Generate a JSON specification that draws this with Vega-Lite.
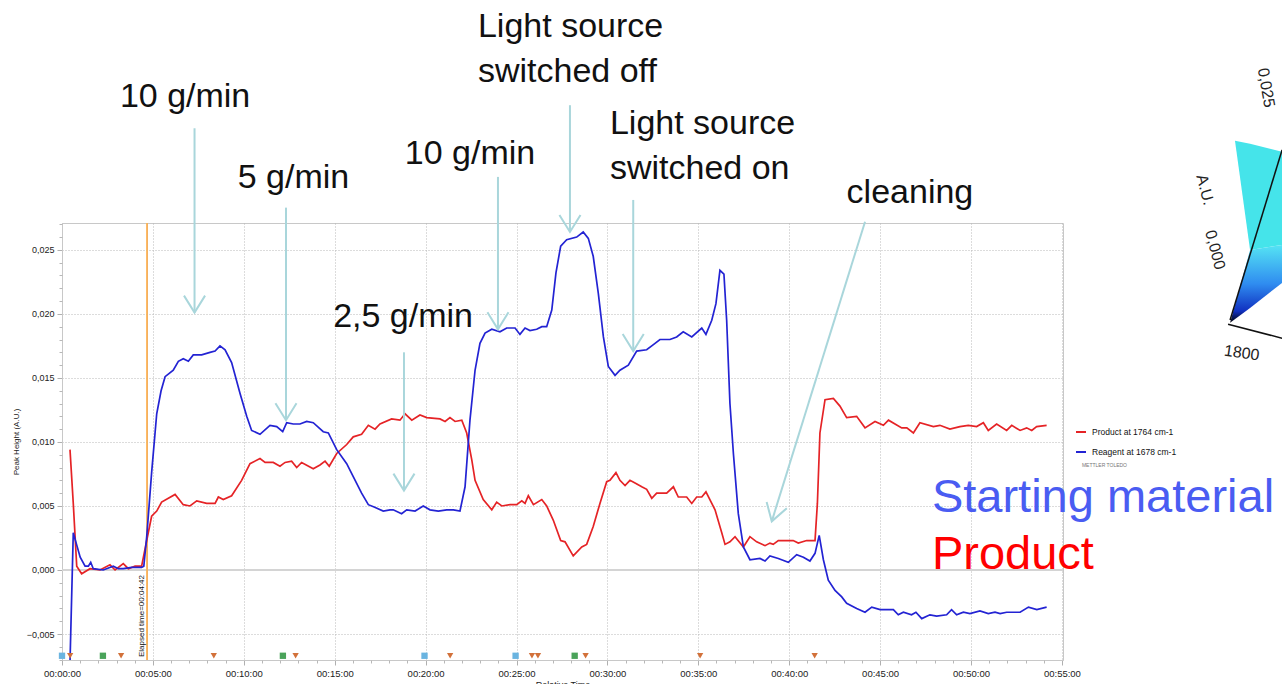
{
  "$schema": "https://vega.github.io/schema/vega-lite/v6.json",
  "autosize": {"type": "none"},
  "width": 1001,
  "height": 437,
  "padding": {"left": 62, "top": 223, "right": 219, "bottom": 24},
  "background": "white",
  "config": {"view": {"stroke": "#c8c8c8"}, "font": "Liberation Sans"},
  "datasets": {
    "product": [
      {"t":0.44,"v":0.0094},{"t":0.62,"v":0.0052},{"t":0.81,"v":0.0003},{"t":1.08,"v":-0.0003},{"t":1.54,"v":0.0001},{"t":2.09,"v":0.0000},{"t":2.64,"v":0.0004},{"t":2.92,"v":0.0000},{"t":3.37,"v":0.0005},{"t":3.65,"v":0.0001},{"t":4.02,"v":0.0003},{"t":4.38,"v":0.0003},{"t":4.66,"v":0.0023},{"t":4.93,"v":0.0042},{"t":5.21,"v":0.0046},{"t":5.48,"v":0.0053},{"t":5.85,"v":0.0056},{"t":6.22,"v":0.0059},{"t":6.67,"v":0.0051},{"t":7.04,"v":0.0050},{"t":7.41,"v":0.0054},{"t":7.96,"v":0.0052},{"t":8.42,"v":0.0052},{"t":8.6,"v":0.0057},{"t":8.87,"v":0.0055},{"t":9.33,"v":0.0058},{"t":9.88,"v":0.0070},{"t":10.34,"v":0.0083},{"t":10.89,"v":0.0087},{"t":11.17,"v":0.0084},{"t":11.62,"v":0.0084},{"t":11.99,"v":0.0081},{"t":12.27,"v":0.0084},{"t":12.63,"v":0.0085},{"t":12.91,"v":0.0080},{"t":13.18,"v":0.0084},{"t":13.82,"v":0.0079},{"t":14.19,"v":0.0082},{"t":14.47,"v":0.0085},{"t":14.7,"v":0.0081},{"t":15.11,"v":0.0091},{"t":15.66,"v":0.0098},{"t":16.02,"v":0.0104},{"t":16.48,"v":0.0106},{"t":16.85,"v":0.0113},{"t":17.22,"v":0.0110},{"t":17.49,"v":0.0114},{"t":18.13,"v":0.0118},{"t":18.59,"v":0.0117},{"t":18.87,"v":0.0122},{"t":19.24,"v":0.0117},{"t":19.69,"v":0.0121},{"t":20.06,"v":0.0119},{"t":20.79,"v":0.0118},{"t":21.07,"v":0.0116},{"t":21.34,"v":0.0119},{"t":21.62,"v":0.0116},{"t":21.99,"v":0.0117},{"t":22.26,"v":0.0107},{"t":22.54,"v":0.0086},{"t":22.72,"v":0.0070},{"t":23.17,"v":0.0055},{"t":23.64,"v":0.0047},{"t":23.91,"v":0.0053},{"t":24.19,"v":0.0050},{"t":24.64,"v":0.0051},{"t":25.01,"v":0.0051},{"t":25.29,"v":0.0054},{"t":25.47,"v":0.0052},{"t":25.65,"v":0.0058},{"t":25.93,"v":0.0051},{"t":26.39,"v":0.0055},{"t":26.66,"v":0.0050},{"t":27.02,"v":0.0039},{"t":27.43,"v":0.0023},{"t":27.67,"v":0.0022},{"t":28.12,"v":0.0011},{"t":28.59,"v":0.0018},{"t":28.86,"v":0.0020},{"t":29.22,"v":0.0034},{"t":29.59,"v":0.0052},{"t":29.96,"v":0.0069},{"t":30.14,"v":0.0070},{"t":30.47,"v":0.0076},{"t":30.69,"v":0.0070},{"t":30.97,"v":0.0066},{"t":31.24,"v":0.0070},{"t":31.52,"v":0.0068},{"t":31.89,"v":0.0065},{"t":32.16,"v":0.0063},{"t":32.44,"v":0.0056},{"t":32.71,"v":0.0060},{"t":33.26,"v":0.0060},{"t":33.63,"v":0.0065},{"t":33.9,"v":0.0057},{"t":34.36,"v":0.0057},{"t":34.64,"v":0.0052},{"t":34.91,"v":0.0057},{"t":35.19,"v":0.0057},{"t":35.42,"v":0.0061},{"t":35.92,"v":0.0047},{"t":36.29,"v":0.0029},{"t":36.47,"v":0.0020},{"t":36.74,"v":0.0022},{"t":37.02,"v":0.0026},{"t":37.48,"v":0.0018},{"t":37.84,"v":0.0026},{"t":38.21,"v":0.0022},{"t":38.67,"v":0.0019},{"t":38.94,"v":0.0021},{"t":39.12,"v":0.0020},{"t":39.4,"v":0.0023},{"t":40.22,"v":0.0023},{"t":40.5,"v":0.0021},{"t":40.96,"v":0.0023},{"t":41.42,"v":0.0023},{"t":41.55,"v":0.0052},{"t":41.69,"v":0.0107},{"t":41.97,"v":0.0133},{"t":42.43,"v":0.0134},{"t":42.79,"v":0.0128},{"t":43.16,"v":0.0119},{"t":43.71,"v":0.0120},{"t":44.17,"v":0.0111},{"t":44.72,"v":0.0116},{"t":45.18,"v":0.0113},{"t":45.46,"v":0.0117},{"t":46.19,"v":0.0111},{"t":46.47,"v":0.0111},{"t":46.83,"v":0.0107},{"t":47.19,"v":0.0115},{"t":47.93,"v":0.0112},{"t":48.29,"v":0.0113},{"t":48.84,"v":0.0110},{"t":49.39,"v":0.0112},{"t":49.85,"v":0.0113},{"t":50.31,"v":0.0112},{"t":50.68,"v":0.0115},{"t":50.95,"v":0.0109},{"t":51.41,"v":0.0114},{"t":51.96,"v":0.0109},{"t":52.24,"v":0.0113},{"t":52.7,"v":0.0109},{"t":53.06,"v":0.0111},{"t":53.34,"v":0.0109},{"t":53.61,"v":0.0112},{"t":54.16,"v":0.0113}
    ],
    "reagent": [
      {"t":0.44,"v":-0.0072},{"t":0.62,"v":0.0029},{"t":0.8,"v":0.0020},{"t":1.0,"v":0.0010},{"t":1.27,"v":0.0003},{"t":1.45,"v":0.0003},{"t":1.58,"v":0.0006},{"t":1.72,"v":0.0001},{"t":2.27,"v":0.0000},{"t":2.82,"v":0.0003},{"t":3.1,"v":0.0001},{"t":3.37,"v":0.0001},{"t":3.83,"v":0.0002},{"t":4.38,"v":0.0002},{"t":4.5,"v":0.0003},{"t":4.66,"v":0.0026},{"t":4.93,"v":0.0076},{"t":5.21,"v":0.0122},{"t":5.45,"v":0.0140},{"t":5.67,"v":0.0151},{"t":6.12,"v":0.0156},{"t":6.4,"v":0.0163},{"t":6.67,"v":0.0165},{"t":6.95,"v":0.0163},{"t":7.22,"v":0.0168},{"t":7.68,"v":0.0168},{"t":8.14,"v":0.0170},{"t":8.42,"v":0.0171},{"t":8.69,"v":0.0175},{"t":8.97,"v":0.0172},{"t":9.33,"v":0.0162},{"t":9.79,"v":0.0138},{"t":10.16,"v":0.0120},{"t":10.43,"v":0.0109},{"t":10.89,"v":0.0106},{"t":11.44,"v":0.0113},{"t":11.81,"v":0.0112},{"t":12.14,"v":0.0108},{"t":12.36,"v":0.0115},{"t":12.72,"v":0.0114},{"t":13.09,"v":0.0114},{"t":13.46,"v":0.0116},{"t":13.82,"v":0.0115},{"t":14.37,"v":0.0108},{"t":14.65,"v":0.0107},{"t":15.11,"v":0.0094},{"t":15.66,"v":0.0083},{"t":16.02,"v":0.0073},{"t":16.48,"v":0.0060},{"t":16.85,"v":0.0051},{"t":17.2,"v":0.0049},{"t":17.67,"v":0.0046},{"t":18.04,"v":0.0047},{"t":18.22,"v":0.0047},{"t":18.68,"v":0.0044},{"t":18.96,"v":0.0047},{"t":19.42,"v":0.0046},{"t":19.87,"v":0.0050},{"t":20.24,"v":0.0047},{"t":20.7,"v":0.0046},{"t":21.16,"v":0.0047},{"t":21.53,"v":0.0047},{"t":21.89,"v":0.0046},{"t":22.17,"v":0.0065},{"t":22.44,"v":0.0117},{"t":22.72,"v":0.0156},{"t":22.99,"v":0.0177},{"t":23.27,"v":0.0185},{"t":23.64,"v":0.0188},{"t":24.09,"v":0.0186},{"t":24.46,"v":0.0189},{"t":24.92,"v":0.0189},{"t":25.19,"v":0.0184},{"t":25.47,"v":0.0189},{"t":25.74,"v":0.0187},{"t":26.11,"v":0.0188},{"t":26.39,"v":0.0190},{"t":26.66,"v":0.0190},{"t":26.94,"v":0.0203},{"t":27.17,"v":0.0232},{"t":27.43,"v":0.0253},{"t":27.76,"v":0.0258},{"t":28.31,"v":0.0260},{"t":28.67,"v":0.0264},{"t":28.95,"v":0.0259},{"t":29.22,"v":0.0245},{"t":29.5,"v":0.0216},{"t":29.78,"v":0.0182},{"t":30.05,"v":0.0159},{"t":30.42,"v":0.0152},{"t":30.69,"v":0.0156},{"t":31.15,"v":0.0160},{"t":31.61,"v":0.0171},{"t":32.16,"v":0.0172},{"t":32.53,"v":0.0176},{"t":32.89,"v":0.0180},{"t":33.44,"v":0.0180},{"t":33.81,"v":0.0182},{"t":34.17,"v":0.0186},{"t":34.64,"v":0.0182},{"t":35.19,"v":0.0189},{"t":35.42,"v":0.0184},{"t":35.74,"v":0.0195},{"t":35.97,"v":0.0208},{"t":36.19,"v":0.0234},{"t":36.41,"v":0.0231},{"t":36.56,"v":0.0195},{"t":36.74,"v":0.0130},{"t":36.93,"v":0.0091},{"t":37.2,"v":0.0044},{"t":37.48,"v":0.0018},{"t":37.84,"v":0.0008},{"t":38.39,"v":0.0009},{"t":38.67,"v":0.0007},{"t":38.94,"v":0.0011},{"t":39.4,"v":0.0009},{"t":39.95,"v":0.0006},{"t":40.41,"v":0.0012},{"t":40.78,"v":0.0010},{"t":41.14,"v":0.0007},{"t":41.42,"v":0.0013},{"t":41.65,"v":0.0027},{"t":41.88,"v":0.0008},{"t":42.15,"v":-0.0008},{"t":42.52,"v":-0.0016},{"t":42.89,"v":-0.0021},{"t":43.16,"v":-0.0026},{"t":43.71,"v":-0.0030},{"t":44.17,"v":-0.0033},{"t":44.54,"v":-0.0029},{"t":45.0,"v":-0.0031},{"t":45.73,"v":-0.0031},{"t":46.0,"v":-0.0035},{"t":46.28,"v":-0.0033},{"t":46.73,"v":-0.0035},{"t":46.97,"v":-0.0033},{"t":47.29,"v":-0.0038},{"t":47.74,"v":-0.0035},{"t":48.11,"v":-0.0036},{"t":48.66,"v":-0.0035},{"t":48.93,"v":-0.0031},{"t":49.21,"v":-0.0035},{"t":49.58,"v":-0.0033},{"t":49.94,"v":-0.0034},{"t":50.49,"v":-0.0032},{"t":50.95,"v":-0.0034},{"t":51.32,"v":-0.0033},{"t":51.6,"v":-0.0034},{"t":51.96,"v":-0.0033},{"t":52.7,"v":-0.0033},{"t":53.16,"v":-0.0029},{"t":53.62,"v":-0.0031},{"t":54.16,"v":-0.0029}
    ],
    "markers": [
      {"t":0,"k":"b"},{"t":0.45,"k":"o"},{"t":2.25,"k":"g"},{"t":3.25,"k":"o"},{"t":8.35,"k":"o"},{"t":12.15,"k":"g"},{"t":12.85,"k":"o"},{"t":19.94,"k":"b"},{"t":21.35,"k":"o"},{"t":24.95,"k":"b"},{"t":25.85,"k":"o"},{"t":26.18,"k":"o"},{"t":28.2,"k":"g"},{"t":28.8,"k":"o"},{"t":35.1,"k":"o"},{"t":41.4,"k":"o"}
    ],
    "arrows": [
      {"t":7.29,"v":0.0345,"t2":7.29,"v2":0.0201,"a":0},
      {"t":12.32,"v":0.0283,"t2":12.32,"v2":0.0117,"a":0},
      {"t":18.81,"v":0.0170,"t2":18.81,"v2":0.0062,"a":0},
      {"t":23.98,"v":0.0307,"t2":23.98,"v2":0.0188,"a":0},
      {"t":27.94,"v":0.0363,"t2":27.94,"v2":0.0264,"a":0},
      {"t":31.42,"v":0.0289,"t2":31.42,"v2":0.0171,"a":0},
      {"t":44.17,"v":0.0272,"t2":39.04,"v2":0.0038,"a":17}
    ],
    "notesCenter": [
      {"t":6.77,"v":0.03615,"label":"10 g/min"},
      {"t":12.73,"v":0.02984,"label":"5 g/min"},
      {"t":18.76,"v":0.01898,"label":"2,5 g/min"},
      {"t":22.44,"v":0.03172,"label":"10 g/min"},
      {"t":46.64,"v":0.02867,"label":"cleaning"}
    ],
    "notesLeft": [
      {"t":22.88,"v":0.04162,"label":"Light source\nswitched off"},
      {"t":30.14,"v":0.03406,"label":"Light source\nswitched on"}
    ],
    "big": [
      {"t":47.85,"v":0.00453,"label":"Starting material","k":"s"},
      {"t":47.85,"v":0.00008,"label":"Product","k":"p"}
    ],
    "cyanTop": [
      {"t":64.52,"v":0.03352,"v2":0.03352},
      {"t":65.35,"v":0.03328,"v2":0.025},
      {"t":67.11,"v":0.03266,"v2":0.02539}
    ],
    "cyanLow": [
      {"t":64.25,"v":0.0193,"v2":0.0193},
      {"t":65.35,"v":0.025,"v2":0.02047},
      {"t":67.11,"v":0.02539,"v2":0.02242}
    ],
    "axis3d": [
      {"t":64.25,"v":0.01953,"t2":67.11,"v2":0.03281},
      {"t":64.14,"v":0.0192,"t2":67.11,"v2":0.0181}
    ],
    "labels3d": [
      {"t":66.23,"v":0.03766,"label":"0,025","a":80},
      {"t":62.87,"v":0.02969,"label":"A.U.","a":75},
      {"t":63.42,"v":0.025,"label":"0,000","a":75},
      {"t":64.89,"v":0.01695,"label":"1800","a":8}
    ],
    "brand": [
      {"t":56.1,"v":0.0082,"label":"METTLER TOLEDO"}
    ],
    "elapsed": [
      {"t":4.6,"v":-0.0068,"label":"Elapsed time=00:04:42"}
    ]
  },
  "resolve": {"axis": {"x": "independent", "y": "independent"}},
  "layer": [
    {
      "layer": [
        {
          "data": {"name": "product"},
          "mark": {"type": "rule", "color": "#d4d4d4", "strokeWidth": 2},
          "encoding": {
            "y": {"datum": 0, "type": "quantitative"}
          }
        },
        {
          "data": {"name": "product"},
          "mark": {"type": "rule", "color": "#f3b060", "strokeWidth": 1},
          "encoding": {
            "x": {"datum": 4.7, "type": "quantitative"}
          }
        },
        {
          "data": {"name": "product"},
          "mark": {"type": "line", "strokeWidth": 1.7, "clip": true},
          "encoding": {
            "x": {
              "field": "t", "type": "quantitative",
              "scale": {"domain": [0, 55.06], "nice": false, "zero": false},
              "axis": {
                "orient": "bottom",
                "title": "Relative Time",
                "titleFontSize": 9, "titleFontWeight": "normal", "titlePadding": 3, "titleColor": "#222",
                "values": [0,5,10,15,20,25,30,35,40,45,50,55],
                "labelExpr": "'00:' + (datum.value < 10 ? '0' : '') + datum.value + ':00'",
                "labelOverlap": false, "labelFlush": false,
                "labelFontSize": 9.5, "labelColor": "#222", "labelPadding": 3,
                "tickSize": 5, "tickColor": "#b0b0b0", "domainColor": "#c8c8c8",
                "grid": true, "gridDash": [1, 2], "gridColor": "#b8b8b8"
              }
            },
            "y": {
              "field": "v", "type": "quantitative",
              "scale": {"domain": [-0.00703, 0.0271], "nice": false, "zero": false},
              "axis": {
                "orient": "left",
                "title": "Peak Height (A.U.)",
                "titleFontSize": 8, "titleFontWeight": "normal", "titlePadding": 6, "titleColor": "#222",
                "values": [-0.005, 0, 0.005, 0.01, 0.015, 0.02, 0.025],
                "labelExpr": "replace(format(datum.value, '.3f'), '.', ',')",
                "labelOverlap": false, "labelFontSize": 9, "labelColor": "#222", "labelPadding": 3,
                "tickSize": 5, "tickColor": "#b0b0b0", "domainColor": "#c8c8c8",
                "grid": true, "gridDash": [1, 2], "gridColor": "#b8b8b8"
              }
            },
            "color": {
              "datum": "Product at 1764 cm-1",
              "scale": {"domain": ["Product at 1764 cm-1", "Reagent at 1678 cm-1"], "range": ["#e52326", "#2323d3"]},
              "legend": {
                "orient": "none", "legendX": 1013, "legendY": 203, "title": null,
                "symbolType": "stroke", "symbolStrokeWidth": 2, "symbolSize": 100,
                "labelFontSize": 8.5, "labelColor": "#111", "rowPadding": 9, "labelOffset": 5
              }
            }
          }
        },
        {
          "data": {"name": "reagent"},
          "mark": {"type": "line", "strokeWidth": 1.7, "clip": true},
          "encoding": {
            "x": {"field": "t", "type": "quantitative"},
            "y": {"field": "v", "type": "quantitative"},
            "color": {"datum": "Reagent at 1678 cm-1"}
          }
        },
        {
          "data": {"name": "markers"},
          "mark": {"type": "point", "filled": true, "size": 40, "opacity": 1},
          "encoding": {
            "x": {"field": "t", "type": "quantitative"},
            "y": {"datum": -0.0067, "type": "quantitative"},
            "shape": {"field": "k", "type": "nominal", "scale": {"domain": ["o", "g", "b"], "range": ["triangle-down", "square", "square"]}, "legend": null},
            "fill": {"field": "k", "type": "nominal", "scale": {"domain": ["o", "g", "b"], "range": ["#d2713a", "#4aa35a", "#6ab4e0"]}, "legend": null}
          }
        },
        {
          "data": {"name": "elapsed"},
          "mark": {"type": "text", "angle": 270, "align": "left", "baseline": "bottom", "fontSize": 8, "color": "#111"},
          "encoding": {
            "x": {"field": "t", "type": "quantitative"},
            "y": {"field": "v", "type": "quantitative"},
            "text": {"field": "label"}
          }
        },
        {
          "data": {"name": "arrows"},
          "mark": {"type": "rule", "color": "#a9d6db", "strokeWidth": 2},
          "encoding": {
            "x": {"field": "t", "type": "quantitative"},
            "y": {"field": "v", "type": "quantitative"},
            "x2": {"field": "t2"},
            "y2": {"field": "v2"}
          }
        },
        {
          "data": {"name": "arrows"},
          "mark": {"type": "point", "shape": "M -0.62 -1 L 0 0 L 0.62 -1", "filled": false, "size": 1156, "stroke": "#a9d6db", "strokeWidth": 2, "opacity": 1},
          "encoding": {
            "x": {"field": "t2", "type": "quantitative"},
            "y": {"field": "v2", "type": "quantitative"},
            "angle": {"field": "a", "type": "quantitative", "scale": null}
          }
        },
        {
          "data": {"name": "notesCenter"},
          "mark": {"type": "text", "align": "center", "baseline": "alphabetic", "fontSize": 34, "color": "#111"},
          "encoding": {
            "x": {"field": "t", "type": "quantitative"},
            "y": {"field": "v", "type": "quantitative"},
            "text": {"field": "label"}
          }
        },
        {
          "data": {"name": "notesLeft"},
          "mark": {"type": "text", "align": "left", "baseline": "alphabetic", "fontSize": 34, "color": "#111", "lineBreak": "\n", "lineHeight": 45},
          "encoding": {
            "x": {"field": "t", "type": "quantitative"},
            "y": {"field": "v", "type": "quantitative"},
            "text": {"field": "label"}
          }
        },
        {
          "data": {"name": "big"},
          "transform": [{"filter": "datum.k == 's'"}],
          "mark": {"type": "text", "align": "left", "baseline": "alphabetic", "fontSize": 47, "color": "#4a5cf2"},
          "encoding": {
            "x": {"field": "t", "type": "quantitative"},
            "y": {"field": "v", "type": "quantitative"},
            "text": {"field": "label"}
          }
        },
        {
          "data": {"name": "big"},
          "transform": [{"filter": "datum.k == 'p'"}],
          "mark": {"type": "text", "align": "left", "baseline": "alphabetic", "fontSize": 47, "color": "#ff0000"},
          "encoding": {
            "x": {"field": "t", "type": "quantitative"},
            "y": {"field": "v", "type": "quantitative"},
            "text": {"field": "label"}
          }
        },
        {
          "data": {"name": "brand"},
          "mark": {"type": "text", "align": "left", "baseline": "middle", "fontSize": 5, "color": "#777"},
          "encoding": {
            "x": {"field": "t", "type": "quantitative"},
            "y": {"field": "v", "type": "quantitative"},
            "text": {"field": "label"}
          }
        },
        {
          "data": {"name": "cyanTop"},
          "mark": {"type": "area", "color": "#45e4ea", "opacity": 1},
          "encoding": {
            "x": {"field": "t", "type": "quantitative"},
            "y": {"field": "v", "type": "quantitative"},
            "y2": {"field": "v2"}
          }
        },
        {
          "data": {"name": "cyanLow"},
          "mark": {
            "type": "area", "opacity": 1,
            "color": {"gradient": "linear", "x1": 0, "y1": 0, "x2": 0, "y2": 1,
              "stops": [{"offset": 0, "color": "#55e4f4"}, {"offset": 0.5, "color": "#2f8cf0"}, {"offset": 0.85, "color": "#1030c0"}, {"offset": 1, "color": "#000000"}]}
          },
          "encoding": {
            "x": {"field": "t", "type": "quantitative"},
            "y": {"field": "v", "type": "quantitative"},
            "y2": {"field": "v2"}
          }
        },
        {
          "data": {"name": "axis3d"},
          "mark": {"type": "rule", "color": "#111", "strokeWidth": 1.5},
          "encoding": {
            "x": {"field": "t", "type": "quantitative"},
            "y": {"field": "v", "type": "quantitative"},
            "x2": {"field": "t2"},
            "y2": {"field": "v2"}
          }
        },
        {
          "data": {"name": "labels3d"},
          "mark": {"type": "text", "align": "center", "baseline": "middle", "fontSize": 16, "color": "#222"},
          "encoding": {
            "x": {"field": "t", "type": "quantitative"},
            "y": {"field": "v", "type": "quantitative"},
            "text": {"field": "label"},
            "angle": {"field": "a", "type": "quantitative", "scale": null}
          }
        }
      ]
    },
    {
      "data": {"name": "product"},
      "mark": {"type": "point", "opacity": 0},
      "encoding": {
        "x": {
          "field": "t", "type": "quantitative",
          "axis": {
            "orient": "bottom", "title": null, "labels": false, "grid": false, "domain": false,
            "values": [1,2,3,4,6,7,8,9,11,12,13,14,16,17,18,19,21,22,23,24,26,27,28,29,31,32,33,34,36,37,38,39,41,42,43,44,46,47,48,49,51,52,53,54],
            "tickSize": 3, "tickColor": "#b8b8b8"
          }
        },
        "y": {
          "field": "v", "type": "quantitative",
          "axis": {
            "orient": "left", "title": null, "labels": false, "grid": false, "domain": false,
            "values": [-0.007,-0.006,-0.004,-0.003,-0.002,-0.001,0.001,0.002,0.003,0.004,0.006,0.007,0.008,0.009,0.011,0.012,0.013,0.014,0.016,0.017,0.018,0.019,0.021,0.022,0.023,0.024,0.026,0.027],
            "tickSize": 3, "tickColor": "#b8b8b8"
          }
        }
      }
    }
  ]
}
